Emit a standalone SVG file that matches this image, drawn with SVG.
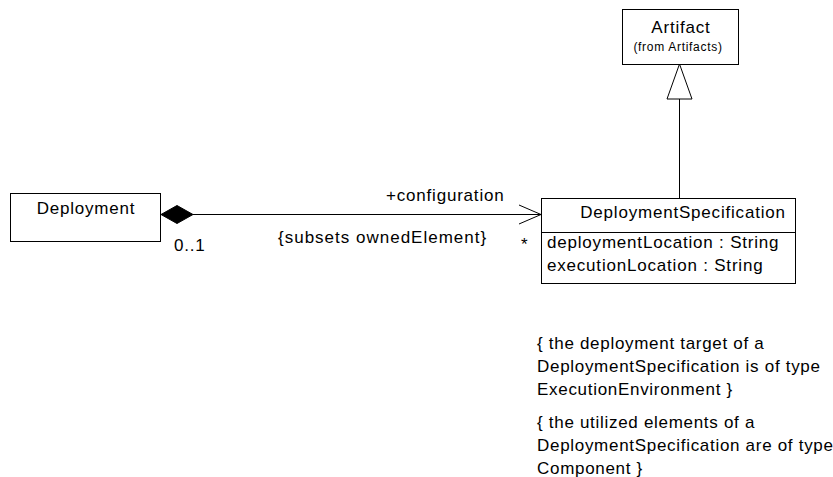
<svg xmlns="http://www.w3.org/2000/svg" width="833" height="477" viewBox="0 0 833 477">
<style>
.box{fill:#fff;stroke:#000;stroke-width:1}
.t{font-family:"Liberation Sans",Arial,sans-serif;font-size:17px;letter-spacing:0.8px;fill:#000}
.n{font-family:"Liberation Sans",Arial,sans-serif;font-size:17px;letter-spacing:0.7px;fill:#000}
.s{font-family:"Liberation Sans",Arial,sans-serif;font-size:12px;letter-spacing:0.7px;fill:#000}
.ln{stroke:#000;stroke-width:1;fill:none}
</style>
<rect width="833" height="477" fill="#fff"/>
<g id="connectors">
<line class="ln" x1="679.5" y1="99" x2="679.5" y2="198"/>
<polygon points="679.5,64 667,99 692,99" fill="#fff" stroke="#000"/>
<line class="ln" x1="193" y1="214.5" x2="541" y2="214.5"/>
<polygon points="161,214.5 177,205.5 193,214.5 177,223.5" fill="#000" stroke="#000"/>
<polyline class="ln" points="519,205 541,214.5 519,224"/>
<text class="t" x="386" y="201">+configuration</text>
<text class="t" x="278" y="243" style="letter-spacing:1px">{subsets ownedElement}</text>
<text class="t" x="521" y="250">*</text>
<text class="t" x="174" y="251">0..1</text>
</g>
<g id="artifact">
<rect class="box" x="622.5" y="9.5" width="116" height="55"/>
<text class="t" x="681" y="33" text-anchor="middle">Artifact</text>
<text class="s" x="678" y="51" text-anchor="middle">(from Artifacts)</text>
</g>
<g id="deployment">
<rect class="box" x="10.5" y="193.5" width="150" height="48"/>
<text class="t" x="86" y="214" text-anchor="middle">Deployment</text>
</g>
<g id="deploymentSpecification">
<rect class="box" x="541.5" y="198.5" width="254" height="85"/>
<line class="ln" x1="541.5" y1="232.5" x2="795.5" y2="232.5"/>
<text class="t" x="683" y="218" text-anchor="middle">DeploymentSpecification</text>
<text class="t" x="547" y="248">deploymentLocation : String</text>
<text class="t" x="547" y="271">executionLocation : String</text>
</g>
<g id="notes">
<text class="n" x="537" y="349">{ the deployment target of a</text>
<text class="n" x="537" y="372">DeploymentSpecification is of type</text>
<text class="n" x="537" y="395">ExecutionEnvironment }</text>
<text class="n" x="537" y="428">{ the utilized elements of a</text>
<text class="n" x="537" y="451">DeploymentSpecification are of type</text>
<text class="n" x="537" y="474">Component }</text>
</g>
</svg>
